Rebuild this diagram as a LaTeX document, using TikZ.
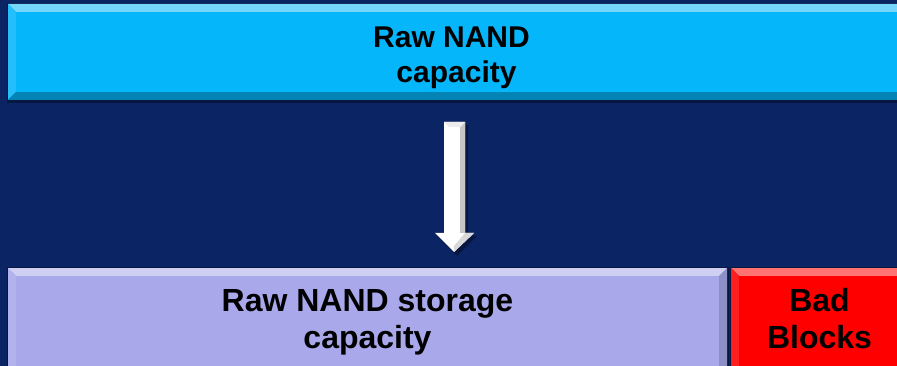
\documentclass[tikz,border=0pt]{standalone}
\usepackage{fontspec}
\setmainfont{Liberation Sans}
\definecolor{bgnavy}{HTML}{0B2464}
\definecolor{topcyan}{HTML}{06B6FB}
\definecolor{lavender}{HTML}{A8A8EB}
\definecolor{redbox}{HTML}{FF0000}
\newcommand\bevbox[5]{%
  \fill[black,opacity=0.35] (#1-1,#2-1) rectangle (#3+2,#4+3);
  \fill[#5] (#1,#2) rectangle (#3,#4);
  \fill[#5!55!white] (#1,#2) -- (#3,#2) -- (#3-8,#2+8) -- (#1+8,#2+8) -- cycle;
  \fill[#5!88!white] (#1,#2) -- (#1+8,#2+8) -- (#1+8,#4-8) -- (#1,#4) -- cycle;
  \fill[#5!72!black] (#1,#4) -- (#1+8,#4-8) -- (#3-8,#4-8) -- (#3,#4) -- cycle;
  \fill[#5!85!black] (#3,#2) -- (#3-8,#2+8) -- (#3-8,#4-8) -- (#3,#4) -- cycle;
  \fill[#5] (#1+8,#2+8) rectangle (#3-8,#4-8);
}
\tikzset{
  lbl/.style={align=center,text=black,inner sep=0pt},
  topfont/.style={font=\fontsize{30}{35}\selectfont\bfseries},
  botfont/.style={font=\fontsize{32}{37}\selectfont\bfseries}
}
\begin{document}
\begin{tikzpicture}[x=1pt,y=-1pt]
\useasboundingbox (0,0) rectangle (897,366);
\clip (0,0) rectangle (897,366);
\fill[bgnavy] (0,0) rectangle (897,366);
% boxes
\bevbox{8}{4}{905}{100}{topcyan}
\bevbox{8}{268}{727}{375}{lavender}
\bevbox{731}{268}{908}{375}{redbox}
% arrow
\fill[black,opacity=0.35] (447,125) -- (468,125) -- (468,236) -- (477,236) -- (457,256) -- (437,236) -- (446,236) -- cycle;
\fill[white] (444,122) -- (465,122) -- (465,233) -- (474,233) -- (454,252) -- (435,233) -- (444,233) -- cycle;
\fill[gray!45] (465,122) -- (465,233) -- (460,233) -- (460,127) -- cycle;
\fill[gray!30] (465,233) -- (474,233) -- (454,252) -- (454,246) -- cycle;
\fill[gray!15] (444,122) -- (465,122) -- (460,127) -- (449,127) -- cycle;
% labels
\node[lbl,topfont] (rawcap) at (451.5,57.5) {Raw NAND\\\hspace*{10pt}capacity};
\node[lbl,botfont] (storcap) at (367.5,322.5) {Raw NAND storage\\capacity};
\node[lbl,botfont] (bad) at (819.5,319) {Bad\\Blocks};
\end{tikzpicture}
\end{document}
